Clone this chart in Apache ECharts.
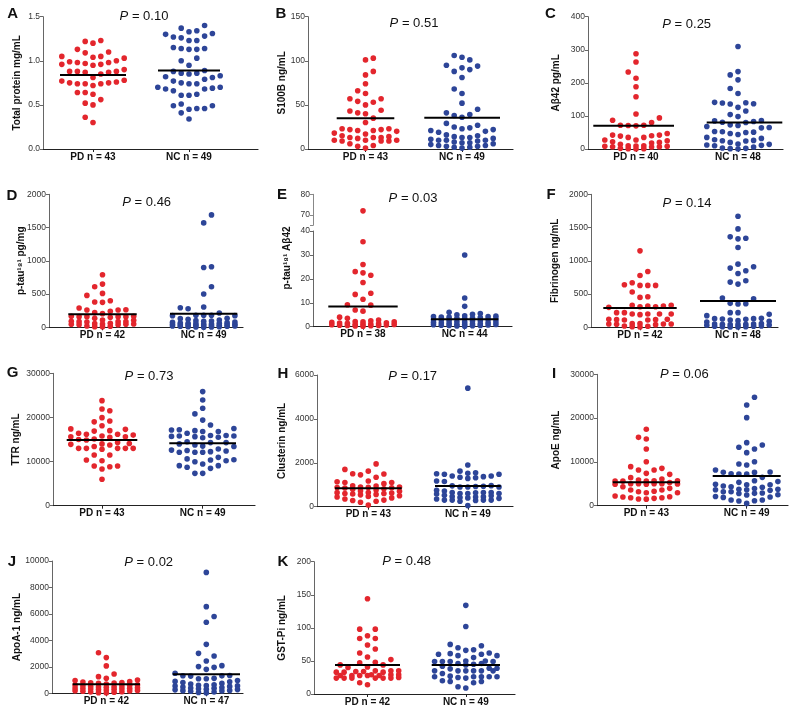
<!DOCTYPE html>
<html><head><meta charset="utf-8">
<script src="https://cdn.jsdelivr.net/npm/echarts@6/dist/echarts.min.js"></script>
<style>html,body{margin:0;padding:0;background:#fff}#c{width:798px;height:713px}</style>
</head><body><div id="c"></div>
<script>
// ---------------- DATA ----------------
const panelLetters = ['A','B','C','D','E','F','G','H','I','J','K'];
const yAxisNames = ['Total protein mg/mL','S100B ng/mL','Aβ42 pg/mL','p-tau¹⁸¹ pg/mg','p-tau¹⁸¹ Aβ42','Fibrinogen ng/mL','TTR ng/mL','Clusterin ng/mL','ApoE ng/mL','ApoA-1 ng/mL','GST-Pi ng/mL'];
const pValues = ['0.10','0.51','0.25','0.46','0.03','0.14','0.73','0.17','0.06','0.02','0.48'];
const groupNames = ['PD','NC'];
const groupCounts = [[43,49],[43,49],[40,48],[42,49],[38,44],[42,48],[43,49],[43,49],[43,49],[42,47],[42,49]];
const yMax = [1.5,150,400,2000,40,2000,30000,6000,30000,10000,200];
const yStep = [0.5,50,100,500,10,500,10000,2000,10000,2000,50];
const eUpperRange = [65,80];
const eUpperTickLabels = [70,80];
const groupMeans = [[0.84,0.89],[35,35.5],[70,80],[195,205],[8.4,3.1],[290,395],[14900,14130],[835,940],[5330,6780],[680,1435],[43.8,44]];

const totalProteinPD = [1.23,1.22,1.20,1.13,1.10,1.09,1.05,1.05,1.04,1.03,1.00,0.99,0.98,0.98,0.97,0.96,0.96,0.95,0.90,0.88,0.88,0.88,0.87,0.87,0.85,0.81,0.78,0.77,0.76,0.75,0.75,0.74,0.74,0.74,0.72,0.64,0.64,0.62,0.56,0.52,0.50,0.36,0.30];
const totalProteinNC = [1.40,1.37,1.34,1.33,1.31,1.30,1.28,1.27,1.26,1.23,1.23,1.15,1.14,1.14,1.13,1.13,1.03,1.00,0.95,0.89,0.88,0.86,0.86,0.85,0.83,0.82,0.81,0.79,0.77,0.75,0.74,0.74,0.70,0.70,0.69,0.68,0.68,0.66,0.62,0.61,0.61,0.51,0.49,0.49,0.46,0.46,0.45,0.41,0.34];
const s100bPD = [103,101,88,84,74,66,63,57,57,54,53,50,44,43,41,40,35,30,23,23,22,22,21,21,20,18,17,15,14,13,13,13,12,10,10,10,9,9,9,6,4,3,1];
const s100bNC = [106,104,101,95,94,92,90,88,81,68,63,52,45,41,39,38,36,29,27,25,24,23,22,21,20,19,16,15,14,13,13,12,11,10,10,10,9,8,7,7,6,5,4,4,3,3,2,2,1];
const abeta42PD = [288,263,233,214,188,158,106,94,87,80,72,72,71,70,47,42,42,40,39,35,35,27,27,25,22,20,18,14,10,10,9,8,8,7,7,6,2,1,1,0];
const abeta42NC = [310,234,224,209,183,168,141,140,139,137,136,126,115,104,98,86,85,83,81,80,73,71,68,65,64,53,52,51,50,47,44,35,32,28,26,25,24,20,15,14,12,11,10,6,3,2,1,0];
const ptauPD = [790,650,610,480,510,400,380,375,290,265,260,260,240,205,220,165,160,160,150,165,160,160,105,90,85,110,135,85,85,80,55,40,45,60,50,45,40,50,15,10,20,10];
const ptauNC = [1690,1570,910,900,610,500,305,280,295,215,180,175,180,175,180,135,130,120,110,100,95,90,80,75,70,65,60,60,55,50,50,45,45,40,40,35,30,30,25,25,20,20,15,15,10,10,5,5,0];
const ptauRatioPD = [72,35.5,26,23,22.5,21.5,18.5,14,13.5,11.5,9.2,9,7,6.5,4,3.5,2.8,2.5,2.2,2,2,1.8,1.6,1.5,1.4,1.2,1.1,1,1,0.9,0.8,0.7,0.6,0.5,0.5,0.4,0.3,0.2];
const ptauRatioNC = [30,12,8.5,6,5.5,5.2,5,4.6,4.4,4.2,4.2,4,4,3.8,3.6,3.5,3.4,3.2,3,3,2.8,2.6,2.5,2.4,2.2,2,2,1.8,1.6,1.5,1.4,1.2,1.1,1,1,0.9,0.8,0.7,0.6,0.5,0.5,0.4,0.3,0.2];
const fibrinogenPD = [1150,840,780,670,630,630,640,630,530,460,450,320,330,300,310,320,330,310,220,220,200,190,200,200,200,110,120,115,110,120,115,50,55,40,45,50,55,50,20,10,15,5];
const fibrinogenNC = [1670,1480,1340,1330,1360,1200,890,950,910,850,810,700,650,680,440,430,360,355,350,220,195,220,175,135,130,130,125,120,110,100,90,80,55,50,50,45,45,40,40,35,30,20,15,15,10,10,5,5];
const ttrPD = [23800,21900,21500,19950,19200,19000,18100,17400,16900,17000,17300,16200,16000,16200,16400,15500,15600,15600,15800,15000,14900,15100,14100,13900,14300,13750,14000,13400,13000,13000,12800,13000,13000,13000,11500,11500,10200,10350,9000,8840,9000,8300,6000];
const ttrNC = [25850,23950,22070,20800,19400,18300,17500,17150,17200,16800,16800,17000,16400,15800,15650,15500,15700,15800,15400,15900,15900,14300,14300,14500,14000,13750,13400,13500,12600,12250,12100,12100,12100,12400,12500,12850,10950,10350,9970,10200,10600,10400,9070,9070,9450,8700,8460,7330,7330];
const clusterinPD = [1950,1700,1620,1450,1490,1500,1340,1100,1050,1140,1170,1100,950,940,900,870,860,850,880,900,820,800,760,720,700,650,640,600,600,620,580,560,540,500,470,440,400,350,300,280,250,200,80];
const clusterinNC = [5400,1900,1620,1550,1520,1500,1480,1480,1370,1400,1340,1320,1290,1400,1170,1150,960,920,900,950,900,900,930,650,710,580,650,600,650,600,630,600,450,420,460,440,400,300,300,280,250,300,350,300,380,500,520,750,50];
const apoePD = [17440,15230,15610,12950,10050,8910,8150,8530,8150,7390,7160,6400,5860,5640,5700,5300,5600,5600,6090,5700,4950,4340,5000,5000,5000,5000,4900,4900,3580,2970,3300,2970,3200,3580,3960,2060,1680,2200,1800,1520,1500,1800,2000];
const apoeNC = [24750,23000,20100,14400,13860,13330,12950,12110,10050,9520,9290,8150,7620,7700,7240,7200,7300,7600,6470,5710,5330,5500,4870,4800,4800,4340,4500,4200,3900,3730,3730,3650,3200,3650,3500,2820,2800,3200,2900,2440,2500,1900,2000,2100,1300,1140,1070,1300,530];
const apoa1PD = [3070,2700,2070,1460,1260,1130,1000,960,880,850,810,800,780,750,700,650,620,600,580,560,520,500,480,450,420,400,380,360,340,320,300,280,250,220,200,180,150,120,100,80,50,20];
const apoa1NC = [9140,6550,5800,5370,3700,3020,2820,2440,2090,1960,1810,2020,1510,1340,1330,1320,1300,1130,1100,1100,960,900,870,820,750,700,640,600,580,560,550,520,480,440,400,380,340,300,280,260,220,200,180,150,100,60,30];
const gstpiPD = [144,98,98,88,84,84,74,68,62,56,52,48,47,44,44,41,40,35,34,33,33,34,35,33,35,28,29,28,28,29,28,28,29,24,24,25,24,24,24,24,17,14];
const gstpiNC = [134,102,75,73,70,66,67,62,61,60,60,58,58,55,50,50,49,49,49,46,46,49,45,44,42,39,35,35,35,35,35,35,39,27,31,24,25,26,26,26,26,26,19,19,17,20,9,11,38];

const panelData = [
  [totalProteinPD,totalProteinNC],[s100bPD,s100bNC],[abeta42PD,abeta42NC],[ptauPD,ptauNC],
  [ptauRatioPD,ptauRatioNC],[fibrinogenPD,fibrinogenNC],[ttrPD,ttrNC],[clusterinPD,clusterinNC],
  [apoePD,apoeNC],[apoa1PD,apoa1NC],[gstpiPD,gstpiNC]
];

// ---------------- LAYOUT (pixels) ----------------
const FONT = '"Liberation Sans", Arial, Helvetica, sans-serif';
const geo = [
 {L:43, T:16.7, Z:149, R:258, c:[50,146], ml:[[17,83],[115,177]], let:[12.7,14], p:[144,16.7], nx:17.5},
 {L:308, T:16.7, Z:149, R:513, c:[57.5,154], ml:[[28.7,86.3],[116.3,192]], let:[281,14], p:[414,23.7], nx:282.5},
 {L:588, T:16.7, Z:149, R:783, c:[48,150], ml:[[5.3,86],[118.7,194.3]], let:[550.5,14], p:[686.7,24.7], nx:556},
 {L:49, T:194.3, Z:327.3, R:243, c:[53.5,154.7], ml:[[19.3,87.7],[121,188.3]], let:[12,196], p:[146.7,202.3], nx:21},
 {L:313, T:231, Z:326.7, R:512, c:[50,151.7], ml:[[15.3,84.7],[118,185.3]], let:[282,195], p:[413,198.3], nx:287.5, ny:258, upT:194.3, upZ:225.3},
 {L:591, T:194.3, Z:327.3, R:778, c:[49,147], ml:[[12.3,85.7],[109,185]], let:[551,195], p:[687,203.3], nx:555},
 {L:53, T:373.3, Z:505.7, R:255, c:[49,149.7], ml:[[13.7,84.3],[116.3,183]], let:[12.5,373], p:[149,376.7], nx:16},
 {L:317, T:375, Z:506.7, R:513, c:[51.3,150.8], ml:[[18,84.7],[118,183.7]], let:[283,374], p:[412.7,376.7], nx:282.5},
 {L:597, T:374.3, Z:505.7, R:788, c:[49.3,149.7], ml:[[15.7,83],[115.7,183.7]], let:[554,374], p:[684.3,374.3], nx:556},
 {L:52, T:561, Z:693.3, R:243, c:[54.3,154.3], ml:[[20.7,88],[120.7,188]], let:[12,562], p:[148.7,562], nx:17.5},
 {L:314, T:561.7, Z:694, R:515, c:[53.5,151.8], ml:[[21,86],[117.7,186]], let:[283,562], p:[406.7,561], nx:282.5}
];
const COLORS = ['#E3262D','#2D4598'];
const DOT = 5.6, SP = 7.8, DYMIN = 8, MAXHALF = 33;

function swarm(vals, toPx){
  const idx = vals.map((v,i)=>i).sort((a,b)=>vals[a]-vals[b]);
  const placed = [], out = new Array(vals.length);
  const step = SP/2, cands = [0];
  for(let k=1;k*step<=MAXHALF+0.01;k++){cands.push(k*step,-k*step);}
  let flip=false;
  idx.forEach(i=>{
    const py = toPx(vals[i]);
    const order = flip ? cands.map(c=>-c) : cands;
    let best=0, bestCost=Infinity;
    for(const cx of order){
      let cost=0;
      for(const p of placed){
        const dx=Math.abs(p.x-cx), dy=Math.abs(p.y-py);
        if(dx<SP-0.01 && dy<DYMIN) cost+=(SP-dx)*(DYMIN-dy);
      }
      if(cost===0){best=cx;bestCost=0;break;}
      if(cost<bestCost){bestCost=cost;best=cx;}
    }
    flip=!flip;
    placed.push({x:best,y:py});
    out[i]=best;
  });
  return out;
}

const grid=[], xAxis=[], yAxis=[], series=[], graphic=[];
geo.forEach((g,i)=>{
  const W = g.R - g.L;
  grid.push({left:g.L, top:g.T, width:W, height:g.Z-g.T, containLabel:false});
  const c0=g.c[0], c1=g.c[1];
  const counts=groupCounts[i];
  xAxis.push({type:'value', gridIndex:i, min:0, max:W,
    axisLine:{show:true, onZero:false, lineStyle:{color:'#222', width:1.2}},
    splitLine:{show:false},
    axisTick:{show:true, length:3, customValues:[c0,c1], lineStyle:{color:'#222'}},
    axisLabel:{show:true, customValues:[c0,c1], margin:3, fontSize:10, fontWeight:'bold', color:'#111', fontFamily:FONT,
      formatter:(v)=> (Math.abs(v-c0)<0.5 ? groupNames[0]+' n = '+counts[0] : groupNames[1]+' n = '+counts[1])}
  });
  yAxis.push({type:'value', gridIndex:i, min:0, max:yMax[i], interval:yStep[i],
    axisLine:{show:true, lineStyle:{color:'#666', width:1}},
    splitLine:{show:false},
    axisTick:{show:true, length:3, lineStyle:{color:'#666'}},
    axisLabel:{fontSize:8.5, color:'#333', margin:3, fontFamily:FONT,
      formatter:(v)=> i===0 ? v.toFixed(1) : String(v)}
  });
  const isE = (i===4);
  const ppu = (g.Z-g.T)/yMax[i];
  const toPx = isE
    ? (v)=> v<=40 ? v*ppu : (g.Z-g.upZ) + (v-eUpperRange[0])*(g.upZ-g.upT)/(eUpperRange[1]-eUpperRange[0])
    : (v)=> v*ppu;
  [0,1].forEach(k=>{
    const vals = panelData[i][k];
    const offs = swarm(vals, toPx);
    const cx = g.c[k];
    const low=[], high=[];
    vals.forEach((v,j)=>{ const pt=[cx+offs[j], v]; if(isE && v>40) high.push(pt); else low.push(pt); });
    series.push({type:'scatter', xAxisIndex:i, yAxisIndex:i, data:low, symbolSize:DOT,
      itemStyle:{color:COLORS[k], opacity:1}, silent:true, z:2});
    if(high.length){
      series.push({type:'scatter', xAxisIndex:11, yAxisIndex:11, data:high, symbolSize:DOT,
        itemStyle:{color:COLORS[k], opacity:1}, silent:true, z:2});
    }
    series.push({type:'line', xAxisIndex:i, yAxisIndex:i, symbol:'none', silent:true, z:3,
      data:[[g.ml[k][0], groupMeans[i][k]],[g.ml[k][1], groupMeans[i][k]]],
      lineStyle:{color:'#000', width:2}});
  });
  // texts
  graphic.push({type:'text', x:g.let[0], y:g.let[1], silent:true,
    style:{text:panelLetters[i], fontSize:15, fontWeight:'bold', fontFamily:FONT, fill:'#111',
      align:'center', verticalAlign:'middle', textAlign:'center', textVerticalAlign:'middle'}});
  graphic.push({type:'text', x:g.p[0], y:g.p[1], silent:true,
    style:{text:'{i|P} = '+pValues[i], fontSize:13, fontFamily:FONT, fill:'#111',
      rich:{i:{fontStyle:'italic', fontSize:13, fontFamily:FONT, fill:'#111'}},
      align:'center', verticalAlign:'middle', textAlign:'center', textVerticalAlign:'middle'}});
  graphic.push({type:'text', x:g.nx, y:(g.ny!==undefined? g.ny : (g.T+g.Z)/2), rotation:Math.PI/2, silent:true,
    style:{text:yAxisNames[i], fontSize:10, fontWeight:'bold', fontFamily:FONT, fill:'#111',
      align:'center', verticalAlign:'middle', textAlign:'center', textVerticalAlign:'middle'}});
});
// E upper segment (broken axis)
const gE = geo[4];
grid.push({left:gE.L, top:gE.upT, width:gE.R-gE.L, height:gE.upZ-gE.upT, containLabel:false});
xAxis.push({type:'value', gridIndex:11, min:0, max:gE.R-gE.L, show:false});
yAxis.push({type:'value', gridIndex:11, min:eUpperRange[0], max:eUpperRange[1],
  axisLine:{show:true, lineStyle:{color:'#888', width:1}},
  splitLine:{show:false},
  axisTick:{show:true, length:3, customValues:[eUpperRange[0]].concat(eUpperTickLabels), lineStyle:{color:'#888'}},
  axisLabel:{customValues:eUpperTickLabels, fontSize:8.5, color:'#333', margin:3, fontFamily:FONT}
});

const chart = echarts.init(document.getElementById('c'), null, {renderer:'canvas'});
chart.setOption({animation:false, backgroundColor:'#fff', grid, xAxis, yAxis, series, graphic});
</script></body></html>
